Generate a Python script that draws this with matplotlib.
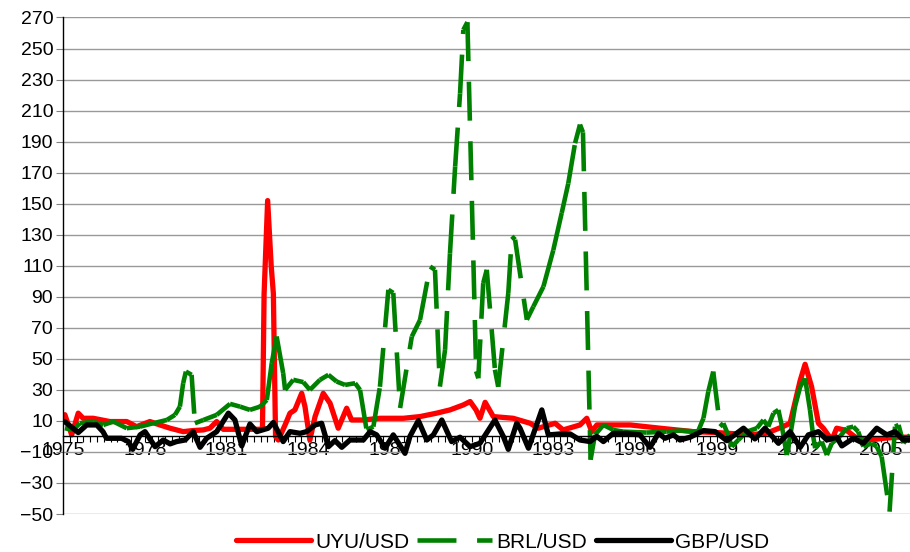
import numpy as np
import matplotlib
matplotlib.use("Agg")
import matplotlib.pyplot as plt
from matplotlib.ticker import MultipleLocator
from matplotlib.collections import LineCollection
from matplotlib.lines import Line2D

plt.rcParams['font.family'] = ['Liberation Sans', 'DejaVu Sans']

# year-on-year change (%)
uyu_years = [1975.07, 1975.32, 1975.56, 1975.74, 1976.11, 1976.72, 1977.34, 1977.70, 1978.19, 1978.56,
             1978.93, 1979.41, 1979.78, 1980.15, 1980.39, 1980.64, 1980.88, 1981.25, 1981.86, 1982.23,
             1982.32, 1982.38, 1982.51, 1982.64, 1982.72, 1982.80, 1982.90, 1983.15, 1983.33, 1983.51,
             1983.76, 1983.88, 1984.06, 1984.25, 1984.55, 1984.80, 1985.10, 1985.41, 1985.59, 1986.02,
             1986.63, 1987.49, 1988.10, 1988.71, 1989.20, 1989.69, 1989.94, 1990.16, 1990.30, 1990.49,
             1990.79, 1991.52, 1992.14, 1992.44, 1993.06, 1993.35, 1993.97, 1994.22, 1994.40, 1994.59,
             1995.81, 1996.91, 1998.12, 1998.99, 2000.21, 2000.82, 2001.43, 2001.68, 2002.05, 2002.23,
             2002.47, 2002.72, 2002.90, 2003.21, 2003.39, 2003.76, 2004.13, 2004.61, 2005.10, 2005.59,
             2006.08]
uyu_values = [14, 1, 15, 11.7, 11.7, 9.6, 9.6, 6.3, 9.6, 7.4,
              5.3, 3.1, 3.8, 4.2, 5.3, 9.6, 4.6, 4.6, 4.6, 4.6,
              5, 92, 152, 110, 92, 0, -2.3, 7.4, 15, 17.1,
              27.8, 19.2, -2.3, 12.8, 27.8, 21.4, 5.3, 18.2, 10.6, 10.6,
              11.7, 11.7, 12.8, 15, 17.1, 20.3, 22.5, 17, 11.7, 22,
              12.8, 11.7, 8.5, 5.3, 8.5, 4.2, 7.4, 11.7, 3.1, 7.4,
              7.4, 5.3, 3.1, 2.5, 1.1, 2.1, 6.4, 8.5, 36, 46.5,
              32, 8.5, 5.3, -2.3, 5.3, 3.8, -1.2, -2.3, -1.2, -0.5,
              -0.5]

brl_years = [1975.07, 1975.38, 1975.62, 1976.11, 1976.48, 1976.85, 1977.34, 1977.83, 1978.31, 1978.81,
             1979.11, 1979.29, 1979.41, 1979.51, 1979.72, 1979.84, 1980.15, 1980.64, 1981.13, 1981.50,
             1981.86, 1982.23, 1982.48, 1982.66, 1982.84, 1983.08, 1983.15, 1983.45, 1983.82, 1984.06,
             1984.43, 1984.74, 1985.04, 1985.35, 1985.72, 1985.90, 1986.14, 1986.39, 1986.63, 1986.94,
             1987.12, 1987.37, 1987.80, 1988.10, 1988.47, 1988.65, 1988.83, 1989.02, 1989.20, 1989.39,
             1989.57, 1989.69, 1989.84, 1990.16, 1990.24, 1990.42, 1990.55, 1990.85, 1990.97, 1991.34,
             1991.47, 1991.59, 1992.02, 1992.26, 1992.63, 1992.99, 1993.30, 1993.54, 1993.79, 1993.97,
             1994.08, 1994.36, 1994.52, 1994.83, 1995.19, 1995.56, 1996.42, 1997.15, 1997.64, 1998.30,
             1998.50, 1998.68, 1998.86, 1999.11, 1999.23, 1999.36, 1999.54, 1999.78, 2000.09, 2000.46,
             2000.70, 2000.88, 2001.07, 2001.25, 2001.37, 2001.56, 2001.68, 2001.86, 2002.05, 2002.23,
             2002.41, 2002.53, 2002.60, 2002.84, 2003.03, 2003.21, 2003.51, 2003.76, 2004.00, 2004.18,
             2004.37, 2004.68, 2004.86, 2005.04, 2005.33, 2005.53, 2005.66, 2005.84, 2006.08]
brl_values = [5.3, 4.2, 8.5, 9.6, 7.4, 9.6, 5.3, 6.3, 8.5, 10.6,
              13.9, 19.2, 34.3, 41.8, 39.7, 8.5, 10.6, 13.9, 21, 19.2,
              17.1, 19.2, 23.5, 47.2, 64.4, 40.8, 30, 36.5, 35, 30,
              36.5, 39.7, 35.4, 33.2, 34.3, 30, 4.2, 6.3, 32, 94.5,
              92.5, 18.3, 64.4, 75, 109.5, 107.4, 32.1, 55.8, 118, 174,
              221, 262, 267, 42, 37.5, 98.8, 107.4, 43, 32, 92.4,
              129, 126.8, 75.2, 83.7, 96.6, 120, 144, 163, 189, 201,
              196, -15, 1, 7.4, 4.2, 3.1, 2.5, 3.1, 3.8, 3.1,
              11.7, 29, 41.8, 6.3, 8.5, 3.1, -6.6, -2.3, 3.1, 5.3,
              10.6, 6.3, 15, 17.1, 7.4, -12, 0, 19.2, 32, 37.5,
              17.1, 0, -7.6, -3.3, -12, -4.4, 0, 5.3, 6.3, 3.1,
              -6.6, -4.4, -6.6, -13, -48.5, 6.3, 7.4, -4.4, 1]

gbp_years = [1975.07, 1975.56, 1975.87, 1976.24, 1976.47, 1976.60, 1977.15, 1977.40, 1977.56, 1977.83,
             1978.01, 1978.38, 1978.68, 1978.93, 1979.17, 1979.48, 1979.78, 1980.03, 1980.27, 1980.64,
             1981.07, 1981.31, 1981.56, 1981.86, 1982.11, 1982.53, 1982.72, 1983.08, 1983.33, 1983.70,
             1983.94, 1984.25, 1984.49, 1984.74, 1984.98, 1985.23, 1985.53, 1986.02, 1986.27, 1986.51,
             1986.82, 1987.12, 1987.55, 1987.73, 1988.04, 1988.35, 1988.59, 1988.90, 1989.26, 1989.57,
             1989.94, 1990.30, 1990.85, 1991.16, 1991.34, 1991.65, 1991.77, 1992.08, 1992.57, 1992.81,
             1993.24, 1993.61, 1993.97, 1994.34, 1994.59, 1994.83, 1995.19, 1995.69, 1996.17, 1996.54,
             1996.85, 1997.09, 1997.40, 1997.64, 1998.01, 1998.50, 1998.93, 1999.36, 1999.97, 2000.39,
             2000.76, 2001.25, 2001.68, 2002.05, 2002.35, 2002.72, 2003.03, 2003.39, 2003.58, 2004.00,
             2004.37, 2004.86, 2005.23, 2005.53, 2005.84, 2006.08]
gbp_values = [9.5, 2.5, 7.4, 7.4, 3, -1.2, -1.2, -3.3, -8.3, 1,
              3.1, -6.6, -2.3, -4.8, -3.3, -2.3, 3.1, -7, -1.2, 3.1,
              15, 10.6, -6.1, 8, 3.1, 5.3, 9, -3.3, 3.1, 2,
              3.1, 7.4, 8.5, -6.6, -2.7, -7, -2.3, -2.3, 3.1, 1,
              -7.6, 1, -10.9, 0, 10.2, -2.3, 1, 10.6, -3.3, -0.5,
              -6.6, -4.4, 10.6, -0.1, -8.3, 8.5, 5.3, -7.6, 17.1, 1,
              1.6, 1.6, -2.3, -3.3, 0, -3.3, 2, 2, 1, -7,
              2, -1.2, 1, -2.3, -0.5, 3.8, 3.1, -2.7, 5.3, -1.6,
              5.3, -4.4, 3.1, -7, 1, 3.1, -2.3, -0.5, -6.1, -1.2,
              -4.4, 5.3, 1, 3.1, -2.3, -2.3]

x_labels = list(range(1975, 2006, 3))
y_ticks = list(range(-50, 271, 20))

green_dash = (8.5, 4.5)

fig = plt.figure(figsize=(9.1, 5.52), dpi=100)
ax = fig.add_axes([0.0692, 0.0688, 0.9308, 0.8995])

ax.plot(uyu_years, uyu_values, color='#ff0000', lw=3.8,
        solid_joinstyle='round', solid_capstyle='round')

# dash pattern restarts at every data point, as in the old spreadsheet charts
pts = np.column_stack([brl_years, brl_values])
segs = np.stack([pts[:-1], pts[1:]], axis=1)
lc = LineCollection(segs, colors='#008000', linewidths=3.3,
                    linestyles=[(0, green_dash)], capstyle='butt')
ax.add_collection(lc)

ax.plot(gbp_years, gbp_values, color='black', lw=3.8,
        solid_joinstyle='round', solid_capstyle='round')

ax.set_ylim(-50, 270)
ax.set_yticks(y_ticks)
ax.set_xlim(1975, 2006.08)
ax.set_xticks(x_labels)
ax.set_xticklabels([str(y) for y in x_labels])
ax.xaxis.set_minor_locator(MultipleLocator(0.25))

ax.grid(axis='y', color='#999999', lw=1.0)
ax.set_axisbelow(True)
ax.spines['top'].set_visible(False)
ax.spines['right'].set_visible(False)
ax.spines['bottom'].set_position(('data', 0))
ax.spines['bottom'].set_linewidth(1.0)
ax.spines['left'].set_linewidth(1.0)

ax.tick_params(axis='x', which='both', direction='out', length=4, width=0.8,
               pad=0, labelsize=14)
ax.tick_params(axis='y', direction='out', length=5, width=0.8, pad=2,
               labelsize=14, color='#808080')

handles = [
    Line2D([], [], color='#ff0000', lw=3.8, solid_capstyle='round'),
    Line2D([], [], color='#008000', lw=3.3, dashes=green_dash, dash_capstyle='butt'),
    Line2D([], [], color='black', lw=3.8, solid_capstyle='round'),
]
fig.legend(handles, ['UYU/USD', 'BRL/USD', 'GBP/USD'], loc='center',
           bbox_to_anchor=(0.552, 0.018), ncol=3, frameon=False,
           fontsize=15, handlelength=3.6, handletextpad=0.2, columnspacing=0.4)

fig.savefig('out.png', dpi=100)
